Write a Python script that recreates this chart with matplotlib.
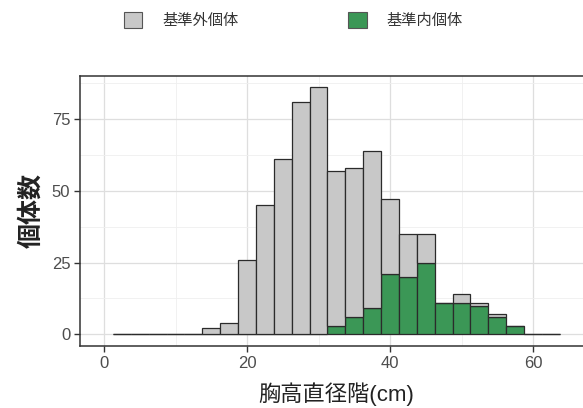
import numpy as np
import matplotlib
matplotlib.use("Agg")
import matplotlib.pyplot as plt
from matplotlib.patches import Patch

plt.rcParams['font.family'] = ['Liberation Sans', 'Noto Sans CJK JP', 'DejaVu Sans']

# diameter classes (bin centres, cm), bin width 2.5
dbh_class = [2.5, 5, 7.5, 10, 12.5, 15, 17.5, 20, 22.5, 25, 27.5, 30, 32.5,
             35, 37.5, 40, 42.5, 45, 47.5, 50, 52.5, 55, 57.5, 60, 62.5]
total_count = [0, 0, 0, 0, 0, 2, 4, 26, 45, 61, 81, 86, 57,
               58, 64, 47, 35, 35, 11, 14, 11, 7, 3, 0, 0]
inside_count = [0, 0, 0, 0, 0, 0, 0, 0, 0, 0, 0, 0, 3,
                6, 9, 21, 20, 25, 11, 11, 10, 6, 3, 0, 0]
labels = ['基準外個体', '基準内個体']
xticks = [0, 20, 40, 60]
yticks = [0, 25, 50, 75]

bin_width = 2.5
grey_fill = '#c8c8c8'
green_fill = '#3b9756'
edge = '#2b2b2b'

x = np.array(dbh_class)
inside = np.array(inside_count)
outside = np.array(total_count) - inside

fig = plt.figure(figsize=(5.83, 4.08), dpi=100)
W, H = 583, 408
# panel extends past the right edge of the picture (cropped)
ax = fig.add_axes([80 / W, 1 - 346 / H, (600 - 80) / W, (346 - 76) / H])

ax.bar(x, inside, width=bin_width, color=green_fill, edgecolor=edge, linewidth=0.9, zorder=3)
ax.bar(x, outside, width=bin_width, bottom=inside, color=grey_fill, edgecolor=edge,
       linewidth=0.9, zorder=3)

px_per_unit_x = 7.15
ax.set_xlim((80 - 104) / px_per_unit_x, (600 - 104) / px_per_unit_x)
ax.set_ylim(-4.1, 90)

ax.set_xticks(xticks)
ax.set_yticks(yticks)
ax.set_xticks([10, 30, 50], minor=True)
ax.set_yticks([12.5, 37.5, 62.5, 87.5], minor=True)
ax.grid(True, which='major', color='#dedede', linewidth=0.9, zorder=0)
ax.grid(True, which='minor', color='#efefef', linewidth=0.6, zorder=0)
ax.tick_params(which='minor', length=0)
ax.tick_params(which='major', length=4, width=1, color='#333333',
               labelsize=12, labelcolor='#4d4d4d', pad=3)

for s in ax.spines.values():
    s.set_color('#333333')
    s.set_linewidth(1.1)

ax.set_ylabel('個体数', fontsize=18, fontweight='bold', color='#222222', labelpad=6)
fig.text(336 / W, 1 - 394 / H, '胸高直径階(cm)', fontsize=16, color='#222222',
         ha='center', va='center')

handles = [Patch(facecolor=grey_fill, edgecolor='#555555', linewidth=0.8),
           Patch(facecolor=green_fill, edgecolor='#555555', linewidth=0.8)]
fig.legend(handles, labels, loc='center left', bbox_to_anchor=(110 / W, 1 - 20 / H),
           ncol=2, frameon=False, fontsize=11, labelcolor='#333333',
           handlelength=1.2, handleheight=1.2, handletextpad=1.3, columnspacing=7.2)

fig.savefig('out.png', dpi=100)
